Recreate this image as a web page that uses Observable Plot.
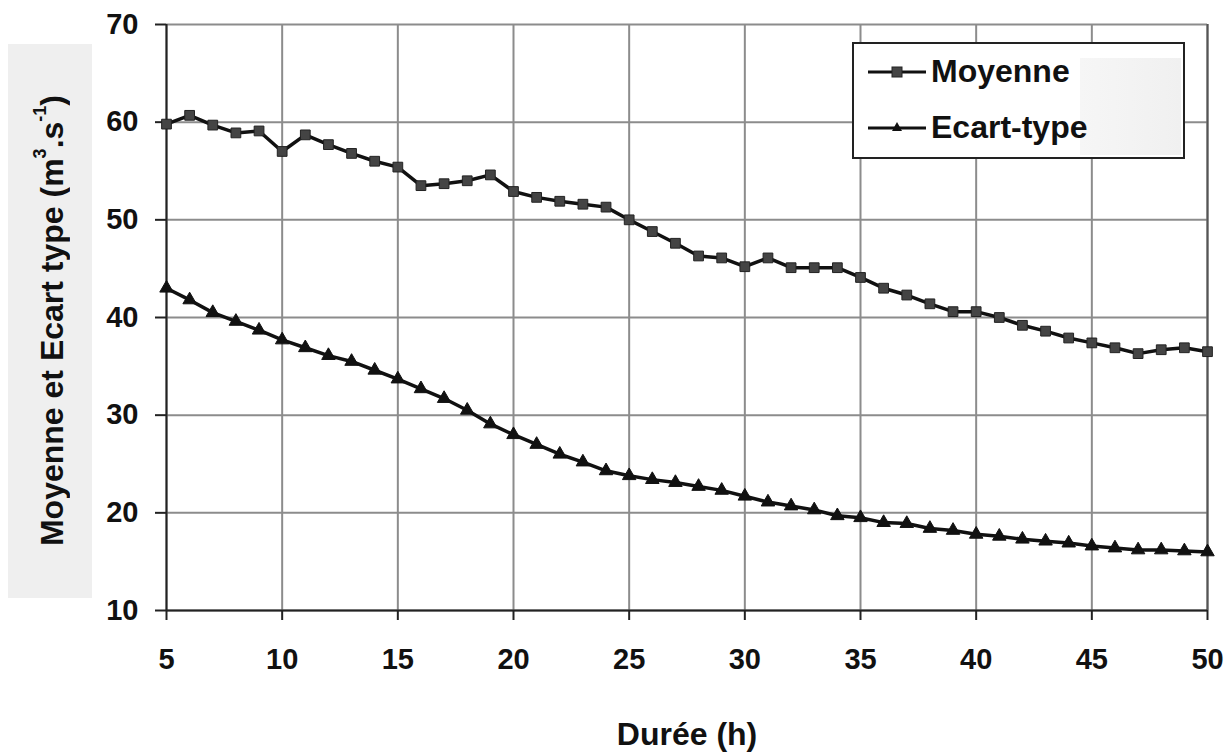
<!DOCTYPE html>
<html>
<head>
<meta charset="utf-8">
<script src="https://cdn.jsdelivr.net/npm/d3@7"></script>
<script src="https://cdn.jsdelivr.net/npm/@observablehq/plot@0.6"></script>
<style>
  html, body { margin: 0; padding: 0; background: white; }
  #wrap { position: relative; width: 1230px; height: 752px; font-family: "Liberation Sans", Arial, sans-serif; font-weight: bold; }
  #ylab { position: absolute; left: 8px; top: 44px; width: 84px; height: 554px; background: #efefef;
          display: flex; align-items: center; justify-content: center; z-index: 2; }
  #ylab span { writing-mode: vertical-rl; transform: rotate(180deg); font-size: 32px; color: #111; white-space: nowrap; }
  #ylab sup { font-size: 18px; }
  #legend { position: absolute; left: 852px; top: 42px; width: 333px; height: 117px; border: 2px solid #222;
            background: white; z-index: 2; box-sizing: border-box; }
  #legend .shade { position: absolute; left: 226px; top: 14px; width: 101px; height: 97px; background: linear-gradient(to right, #f6f6f6, #f0f0f0); }
  #legend .row { position: absolute; left: 14px; display: flex; align-items: center; font-size: 32px; color: #111; }
  #legend svg { margin-right: 3px; }
</style>
</head>
<body>
<div id="wrap">
  <div id="chart"></div>
  <div id="ylab"><span>Moyenne et Ecart type (m<sup>3</sup>.s<sup>-1</sup>)</span></div>
  <div id="legend">
    <div class="shade"></div>
    <div class="row" style="top:9px"><svg width="60" height="20"><line x1="0" y1="10" x2="58" y2="10" stroke="#111" stroke-width="3"/><rect x="24" y="5" width="10" height="10" fill="#444" stroke="#222"/></svg><span>Moyenne</span></div>
    <div class="row" style="top:65px"><svg width="60" height="20"><line x1="0" y1="10" x2="58" y2="10" stroke="#111" stroke-width="3"/><path d="M29,4 L34,13 L24,13 Z" fill="#111"/></svg><span>Ecart-type</span></div>
  </div>
</div>
<script>
const hours = d3.range(5, 51);
const moyenne = [59.8, 60.7, 59.7, 58.9, 59.1, 57.0, 58.7, 57.7, 56.8, 56.0,
                 55.4, 53.5, 53.7, 54.0, 54.6, 52.9, 52.3, 51.9, 51.6, 51.3,
                 50.0, 48.8, 47.6, 46.3, 46.1, 45.2, 46.1, 45.1, 45.1, 45.1,
                 44.1, 43.0, 42.3, 41.4, 40.6, 40.6, 40.0, 39.2, 38.6, 37.9,
                 37.4, 36.9, 36.3, 36.7, 36.9, 36.5];
const ecartType = [43.0, 41.8, 40.5, 39.6, 38.7, 37.7, 36.9, 36.1, 35.5, 34.6,
                   33.7, 32.7, 31.7, 30.5, 29.1, 28.0, 27.0, 26.0, 25.2, 24.3,
                   23.8, 23.4, 23.1, 22.7, 22.3, 21.7, 21.1, 20.7, 20.3, 19.7,
                   19.5, 19.0, 18.9, 18.4, 18.2, 17.8, 17.6, 17.3, 17.1, 16.9,
                   16.6, 16.4, 16.2, 16.2, 16.1, 16.0];
const xTicks = [5, 10, 15, 20, 25, 30, 35, 40, 45, 50];
const yTicks = [10, 20, 30, 40, 50, 60, 70];
const xLabel = "Durée (h)";

const dataM = hours.map((h, i) => ({h, v: moyenne[i], s: "Moyenne"}));
const dataE = hours.map((h, i) => ({h, v: ecartType[i], s: "Ecart-type"}));

const chart = Plot.plot({
  width: 1230,
  height: 752,
  marginLeft: 166,
  marginRight: 23,
  marginTop: 24,
  marginBottom: 142,
  style: {fontFamily: '"Liberation Sans", Arial, sans-serif', background: "white", color: "#111"},
  x: {domain: [5, 50]},
  y: {domain: [10, 70]},
  marks: [
    Plot.ruleX(xTicks, {stroke: "#8c8c8c", strokeWidth: 2}),
    Plot.ruleY(yTicks, {stroke: "#8c8c8c", strokeWidth: 2}),
    Plot.ruleX([50], {stroke: "#555", strokeWidth: 2}),
    Plot.ruleX([5], {stroke: "#222", strokeWidth: 2}),
    Plot.ruleY([10], {stroke: "#222", strokeWidth: 2}),
    Plot.axisY({ticks: yTicks, tickSize: 11, tickPadding: 17, fontSize: 29, fontWeight: "bold", label: null, stroke: "#222", strokeWidth: 2}),
    Plot.axisX({ticks: xTicks, tickSize: 10, tickPadding: 28, fontSize: 29, fontWeight: "bold", label: null, stroke: "#222", strokeWidth: 2}),
    Plot.text([xLabel], {frameAnchor: "bottom", dy: 134, fontSize: 32, fontWeight: "bold", fill: "#111", text: d => d}),
    Plot.line(dataM, {x: "h", y: "v", stroke: "#111", strokeWidth: 3.5}),
    Plot.line(dataE, {x: "h", y: "v", stroke: "#111", strokeWidth: 3.5}),
    Plot.dot(dataM, {x: "h", y: "v", symbol: "square", r: 5.5, fill: "#444", stroke: "#222", strokeWidth: 1}),
    Plot.dot(dataE, {x: "h", y: "v", symbol: "triangle", r: 5, fill: "#111", stroke: "#111", strokeWidth: 1})
  ]
});
document.getElementById("chart").appendChild(chart);
</script>
</body>
</html>
